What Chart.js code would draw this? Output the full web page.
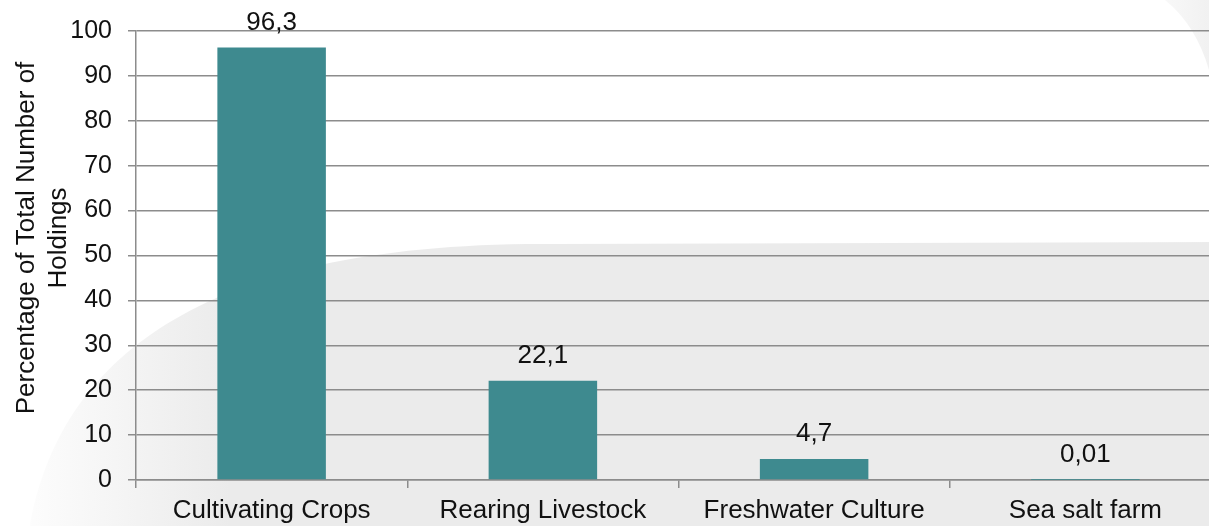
<!DOCTYPE html>
<html>
<head>
<meta charset="utf-8">
<script src="https://cdn.jsdelivr.net/npm/chart.js@4/dist/chart.umd.min.js"></script>
<style>
  html, body { margin: 0; padding: 0; background: #fff; overflow: hidden; }
  #wrap { width: 1209px; height: 526px; overflow: hidden; position: relative; }
  canvas { display: block; }
</style>
</head>
<body>
<div id="wrap"><canvas id="chart" width="1222" height="526"></canvas></div>
<script>
// Agricultural holdings by activity type
const categories = ['Cultivating Crops', 'Rearing Livestock', 'Freshwater Culture', 'Sea salt farm'];
const shareOfHoldings = [96.3, 22.1, 4.7, 0.01];
const axisTitleLines = ['Percentage of Total Number of', 'Holdings'];

const FONT = '"Liberation Sans", Arial, sans-serif';
const GRID = '#8c8c8c';
const BAR = '#3e8a8f';

// Soft grey backdrop shape behind the plot
const backdrop = {
  id: 'backdrop',
  beforeDraw(chart) {
    const ctx = chart.ctx;
    ctx.save();
    ctx.fillStyle = '#ffffff';
    ctx.fillRect(0, 0, chart.width, chart.height);
    const g = ctx.createLinearGradient(0, 0, 230, 0);
    g.addColorStop(0, '#ffffff');
    g.addColorStop(1, '#ebebeb');
    ctx.fillStyle = g;
    ctx.beginPath();
    ctx.moveTo(30, 526);
    ctx.bezierCurveTo(60, 360, 200, 240, 560, 244);
    ctx.lineTo(1222, 242);
    ctx.lineTo(1222, 526);
    ctx.closePath();
    ctx.fill();
    const g2 = ctx.createLinearGradient(1165, 0, 1209, 0);
    g2.addColorStop(0, '#f8f8f8');
    g2.addColorStop(1, '#f1f1f1');
    ctx.fillStyle = g2;
    ctx.beginPath();
    ctx.moveTo(1165, 0);
    ctx.quadraticCurveTo(1196, 25, 1209, 70);
    ctx.lineTo(1222, 70);
    ctx.lineTo(1222, 0);
    ctx.closePath();
    ctx.fill();
    ctx.restore();
  }
};

// Value labels above each bar, with comma decimals
const valueLabels = {
  id: 'valueLabels',
  afterDatasetsDraw(chart) {
    const ctx = chart.ctx;
    const meta = chart.getDatasetMeta(0);
    ctx.save();
    ctx.font = '26px ' + FONT;
    ctx.fillStyle = '#111111';
    ctx.textAlign = 'center';
    ctx.textBaseline = 'alphabetic';
    meta.data.forEach((bar, i) => {
      const txt = String(shareOfHoldings[i]).replace('.', ',');
      ctx.fillText(txt, bar.x, bar.y - 17.5);
    });
    ctx.restore();
  }
};

// Two-line rotated y-axis title
const yTitle = {
  id: 'yTitle',
  afterDraw(chart) {
    const ctx = chart.ctx;
    ctx.save();
    ctx.font = '26px ' + FONT;
    ctx.fillStyle = '#111111';
    ctx.textAlign = 'center';
    ctx.textBaseline = 'alphabetic';
    const baselines = [34, 66];
    axisTitleLines.forEach((line, i) => {
      ctx.save();
      ctx.translate(baselines[i], 238);
      ctx.rotate(-Math.PI / 2);
      ctx.fillText(line, 0, 0);
      ctx.restore();
    });
    ctx.restore();
  }
};

new Chart(document.getElementById('chart'), {
  type: 'bar',
  data: {
    labels: categories,
    datasets: [{
      data: shareOfHoldings,
      backgroundColor: BAR,
      borderWidth: 0,
      categoryPercentage: 1.0,
      barPercentage: 0.4
    }]
  },
  options: {
    responsive: false,
    animation: false,
    devicePixelRatio: 1,
    layout: { padding: { top: 28, right: 1, left: 0, bottom: 0 } },
    plugins: {
      legend: { display: false },
      tooltip: { enabled: false },
      title: { display: false }
    },
    scales: {
      x: {
        afterFit(s) { s.height = 46; },
        grid: {
          offset: true,
          drawOnChartArea: false,
          drawTicks: true,
          tickLength: 8,
          color: GRID,
          lineWidth: 1.5
        },
        border: { display: true, color: GRID, width: 1.5 },
        ticks: {
          color: '#111111',
          font: { family: FONT, size: 26 },
          padding: 7,
          maxRotation: 0,
          autoSkip: false
        }
      },
      y: {
        min: 0,
        max: 100,
        afterFit(s) { s.width = 136; },
        grid: {
          color: GRID,
          lineWidth: 1.5,
          tickLength: 8,
          drawTicks: true
        },
        border: { display: true, color: GRID, width: 1.5 },
        ticks: {
          stepSize: 10,
          color: '#111111',
          font: { family: FONT, size: 25 },
          padding: 16
        }
      }
    }
  },
  plugins: [backdrop, valueLabels, yTitle]
});
</script>
</body>
</html>
